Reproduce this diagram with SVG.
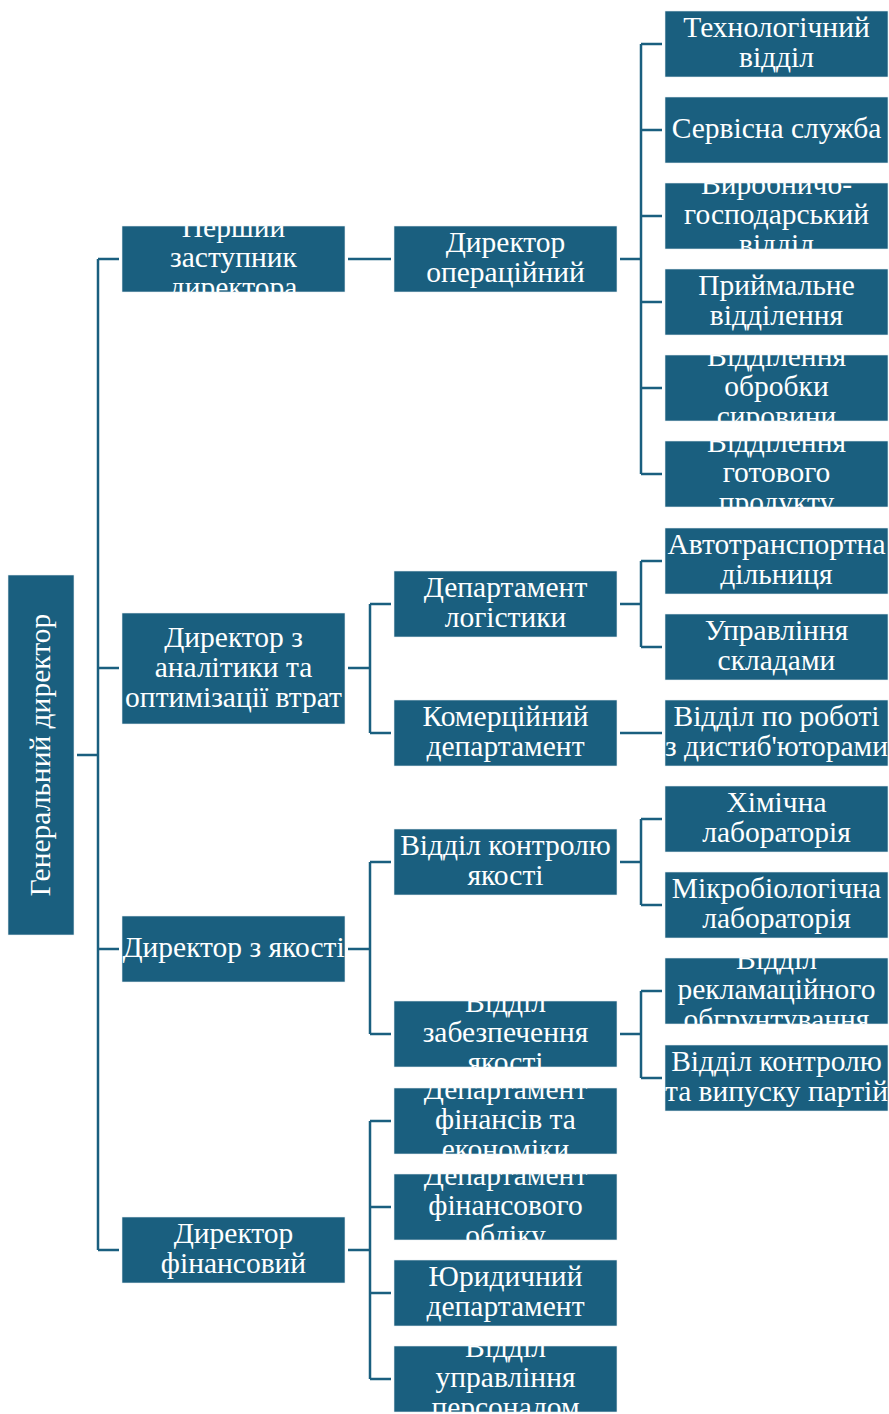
<svg xmlns="http://www.w3.org/2000/svg" width="889" height="1414" viewBox="0 0 889 1414">
<style>
.b{fill:#1a5f7f;stroke:#e8eef2;stroke-width:0.6}
.t{fill:#fff;font-family:"Liberation Serif","Times New Roman",serif;font-size:29.5px;text-anchor:middle}
.c{stroke:#1a5f7f;stroke-width:2.5;fill:none}
</style>
<defs>
<clipPath id="k0"><rect x="8" y="575" width="66" height="360"/></clipPath>
<clipPath id="a1"><rect x="122" y="226" width="223" height="66"/></clipPath>
<clipPath id="a2"><rect x="122" y="613" width="223" height="111"/></clipPath>
<clipPath id="a3"><rect x="122" y="916" width="223" height="66"/></clipPath>
<clipPath id="a4"><rect x="122" y="1217" width="223" height="66"/></clipPath>
<clipPath id="b1"><rect x="394" y="226" width="223" height="66"/></clipPath>
<clipPath id="b2"><rect x="394" y="571" width="223" height="66"/></clipPath>
<clipPath id="b3"><rect x="394" y="700" width="223" height="66"/></clipPath>
<clipPath id="b4"><rect x="394" y="829" width="223" height="66"/></clipPath>
<clipPath id="b5"><rect x="394" y="1001" width="223" height="66"/></clipPath>
<clipPath id="b6"><rect x="394" y="1088" width="223" height="66"/></clipPath>
<clipPath id="b7"><rect x="394" y="1174" width="223" height="66"/></clipPath>
<clipPath id="b8"><rect x="394" y="1260" width="223" height="66"/></clipPath>
<clipPath id="b9"><rect x="394" y="1346" width="223" height="66"/></clipPath>
<clipPath id="c1"><rect x="665" y="11" width="223" height="66"/></clipPath>
<clipPath id="c2"><rect x="665" y="97" width="223" height="66"/></clipPath>
<clipPath id="c3"><rect x="665" y="183" width="223" height="66"/></clipPath>
<clipPath id="c4"><rect x="665" y="269" width="223" height="66"/></clipPath>
<clipPath id="c5"><rect x="665" y="355" width="223" height="66"/></clipPath>
<clipPath id="c6"><rect x="665" y="441" width="223" height="66"/></clipPath>
<clipPath id="c7"><rect x="665" y="528" width="223" height="66"/></clipPath>
<clipPath id="c8"><rect x="665" y="614" width="223" height="66"/></clipPath>
<clipPath id="c9"><rect x="665" y="700" width="223" height="66"/></clipPath>
<clipPath id="c10"><rect x="665" y="786" width="223" height="66"/></clipPath>
<clipPath id="c11"><rect x="665" y="872" width="223" height="66"/></clipPath>
<clipPath id="c12"><rect x="665" y="958" width="223" height="66"/></clipPath>
<clipPath id="c13"><rect x="665" y="1045" width="223" height="66"/></clipPath>
</defs>

<g id="connectors" class="c">
<path d="M77,755H98M98,259V1250M98,259H119M98,668H119M98,949H119M98,1250H119"/>
<path d="M348,259H391"/>
<path d="M348,668H370M370,604V733M370,604H391M370,733H391"/>
<path d="M348,949H370M370,862V1034M370,862H391M370,1034H391"/>
<path d="M348,1250H370M370,1121V1379M370,1121H391M370,1207H391M370,1293H391M370,1379H391"/>
<path d="M620,259H641M641,44V474M641,44H662M641,130H662M641,216H662M641,302H662M641,388H662M641,474H662"/>
<path d="M620,604H641M641,561V647M641,561H662M641,647H662"/>
<path d="M620,733H662"/>
<path d="M620,862H641M641,819V905M641,819H662M641,905H662"/>
<path d="M620,1034H641M641,991V1078M641,991H662M641,1078H662"/>
</g>

<g id="n-root"><rect class="b" x="8" y="575" width="66" height="360"/>
<g clip-path="url(#k0)"><text class="t" transform="translate(41,755) rotate(-90)" x="0" y="8.8">Генеральний директор</text></g></g>

<g id="n-a1"><rect class="b" x="122" y="226" width="223" height="66"/>
<text class="t" clip-path="url(#a1)"><tspan x="233.5" y="237.3">Перший</tspan><tspan x="233.5" y="267.3">заступник</tspan><tspan x="233.5" y="297.3">директора</tspan></text></g>
<g id="n-a2"><rect class="b" x="122" y="613" width="223" height="111"/>
<text class="t" clip-path="url(#a2)"><tspan x="233.5" y="646.8">Директор з</tspan><tspan x="233.5" y="676.8">аналітики та</tspan><tspan x="233.5" y="706.8">оптимізації втрат</tspan></text></g>
<g id="n-a3"><rect class="b" x="122" y="916" width="223" height="66"/>
<text class="t" clip-path="url(#a3)"><tspan x="233.5" y="957.3">Директор з якості</tspan></text></g>
<g id="n-a4"><rect class="b" x="122" y="1217" width="223" height="66"/>
<text class="t" clip-path="url(#a4)"><tspan x="233.5" y="1243.3">Директор</tspan><tspan x="233.5" y="1273.3">фінансовий</tspan></text></g>

<g id="n-b1"><rect class="b" x="394" y="226" width="223" height="66"/>
<text class="t" clip-path="url(#b1)"><tspan x="505.5" y="252.3">Директор</tspan><tspan x="505.5" y="282.3">операційний</tspan></text></g>
<g id="n-b2"><rect class="b" x="394" y="571" width="223" height="66"/>
<text class="t" clip-path="url(#b2)"><tspan x="505.5" y="597.3">Департамент</tspan><tspan x="505.5" y="627.3">логістики</tspan></text></g>
<g id="n-b3"><rect class="b" x="394" y="700" width="223" height="66"/>
<text class="t" clip-path="url(#b3)"><tspan x="505.5" y="726.3">Комерційний</tspan><tspan x="505.5" y="756.3">департамент</tspan></text></g>
<g id="n-b4"><rect class="b" x="394" y="829" width="223" height="66"/>
<text class="t" clip-path="url(#b4)"><tspan x="505.5" y="855.3">Відділ контролю</tspan><tspan x="505.5" y="885.3">якості</tspan></text></g>
<g id="n-b5"><rect class="b" x="394" y="1001" width="223" height="66"/>
<text class="t" clip-path="url(#b5)"><tspan x="505.5" y="1012.3">Відділ</tspan><tspan x="505.5" y="1042.3">забезпечення</tspan><tspan x="505.5" y="1072.3">якості</tspan></text></g>
<g id="n-b6"><rect class="b" x="394" y="1088" width="223" height="66"/>
<text class="t" clip-path="url(#b6)"><tspan x="505.5" y="1099.3">Департамент</tspan><tspan x="505.5" y="1129.3">фінансів та</tspan><tspan x="505.5" y="1159.3">економіки</tspan></text></g>
<g id="n-b7"><rect class="b" x="394" y="1174" width="223" height="66"/>
<text class="t" clip-path="url(#b7)"><tspan x="505.5" y="1185.3">Департамент</tspan><tspan x="505.5" y="1215.3">фінансового</tspan><tspan x="505.5" y="1245.3">обліку</tspan></text></g>
<g id="n-b8"><rect class="b" x="394" y="1260" width="223" height="66"/>
<text class="t" clip-path="url(#b8)"><tspan x="505.5" y="1286.3">Юридичний</tspan><tspan x="505.5" y="1316.3">департамент</tspan></text></g>
<g id="n-b9"><rect class="b" x="394" y="1346" width="223" height="66"/>
<text class="t" clip-path="url(#b9)"><tspan x="505.5" y="1357.3">Відділ</tspan><tspan x="505.5" y="1387.3">управління</tspan><tspan x="505.5" y="1417.3">персоналом</tspan></text></g>

<g id="n-c1"><rect class="b" x="665" y="11" width="223" height="66"/>
<text class="t" clip-path="url(#c1)"><tspan x="776.5" y="37.3">Технологічний</tspan><tspan x="776.5" y="67.3">відділ</tspan></text></g>
<g id="n-c2"><rect class="b" x="665" y="97" width="223" height="66"/>
<text class="t" clip-path="url(#c2)"><tspan x="776.5" y="138.3">Сервісна служба</tspan></text></g>
<g id="n-c3"><rect class="b" x="665" y="183" width="223" height="66"/>
<text class="t" clip-path="url(#c3)"><tspan x="776.5" y="194.3">Виробничо-</tspan><tspan x="776.5" y="224.3">господарський</tspan><tspan x="776.5" y="254.3">відділ</tspan></text></g>
<g id="n-c4"><rect class="b" x="665" y="269" width="223" height="66"/>
<text class="t" clip-path="url(#c4)"><tspan x="776.5" y="295.3">Приймальне</tspan><tspan x="776.5" y="325.3">відділення</tspan></text></g>
<g id="n-c5"><rect class="b" x="665" y="355" width="223" height="66"/>
<text class="t" clip-path="url(#c5)"><tspan x="776.5" y="366.3">Відділення</tspan><tspan x="776.5" y="396.3">обробки</tspan><tspan x="776.5" y="426.3">сировини</tspan></text></g>
<g id="n-c6"><rect class="b" x="665" y="441" width="223" height="66"/>
<text class="t" clip-path="url(#c6)"><tspan x="776.5" y="452.3">Відділення</tspan><tspan x="776.5" y="482.3">готового</tspan><tspan x="776.5" y="512.3">продукту</tspan></text></g>
<g id="n-c7"><rect class="b" x="665" y="528" width="223" height="66"/>
<text class="t" clip-path="url(#c7)"><tspan x="776.5" y="554.3">Автотранспортна</tspan><tspan x="776.5" y="584.3">дільниця</tspan></text></g>
<g id="n-c8"><rect class="b" x="665" y="614" width="223" height="66"/>
<text class="t" clip-path="url(#c8)"><tspan x="776.5" y="640.3">Управління</tspan><tspan x="776.5" y="670.3">складами</tspan></text></g>
<g id="n-c9"><rect class="b" x="665" y="700" width="223" height="66"/>
<text class="t" clip-path="url(#c9)"><tspan x="776.5" y="726.3">Відділ по роботі</tspan><tspan x="776.5" y="756.3">з дистиб'юторами</tspan></text></g>
<g id="n-c10"><rect class="b" x="665" y="786" width="223" height="66"/>
<text class="t" clip-path="url(#c10)"><tspan x="776.5" y="812.3">Хімічна</tspan><tspan x="776.5" y="842.3">лабораторія</tspan></text></g>
<g id="n-c11"><rect class="b" x="665" y="872" width="223" height="66"/>
<text class="t" clip-path="url(#c11)"><tspan x="776.5" y="898.3">Мікробіологічна</tspan><tspan x="776.5" y="928.3">лабораторія</tspan></text></g>
<g id="n-c12"><rect class="b" x="665" y="958" width="223" height="66"/>
<text class="t" clip-path="url(#c12)"><tspan x="776.5" y="969.3">Відділ</tspan><tspan x="776.5" y="999.3">рекламаційного</tspan><tspan x="776.5" y="1029.3">обгрунтування</tspan></text></g>
<g id="n-c13"><rect class="b" x="665" y="1045" width="223" height="66"/>
<text class="t" clip-path="url(#c13)"><tspan x="776.5" y="1071.3">Відділ контролю</tspan><tspan x="776.5" y="1101.3">та випуску партій</tspan></text></g>
</svg>
